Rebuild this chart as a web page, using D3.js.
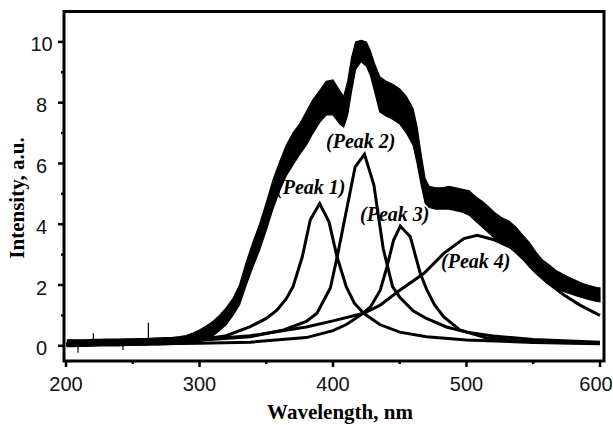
<!DOCTYPE html>
<html><head><meta charset="utf-8">
<script src="https://cdn.jsdelivr.net/npm/d3@7"></script>
<style>html,body{margin:0;padding:0;background:#fff;}svg{display:block;}</style>
</head><body>
<svg id="chart" width="613" height="425"></svg>
<script>
// ---- data ----
const xTicks = [200, 300, 400, 500, 600];
const xMinorTicks = [250, 350, 450, 550];
const yTicks = [0, 2, 4, 6, 8, 10];
const yMinorTicks = [1, 3, 5, 7, 9];

// measured spectrum: noisy band, lower and upper envelope
const specLambda = [201,205,210,215,220,225,230,235,240,245,250,255,260,265,270,275,280,285,290,295,300,305,310,315,320,325,330,335,340,345,350,355,360,365,370,375,380,385,390,395,400,405,408,411,414,417,421,425,428,431,435,440,445,450,455,460,463,466,469,472,477,482,487,492,497,502,507,512,517,522,527,532,537,542,547,552,557,562,567,572,577,582,587,592,597,600];
const specLow =    [-0.03,-0.03,-0.02,-0.02,-0.01,0,0,0,0,0.01,0.01,0.02,0.02,0.03,0.03,0.04,0.05,0.06,0.08,0.1,0.14,0.22,0.32,0.5,0.7,1.0,1.35,2.0,2.6,3.15,3.8,4.5,5.1,5.6,5.95,6.3,6.6,7.0,7.35,7.6,7.6,7.3,7.2,7.6,8.4,9.1,9.35,9.2,8.9,8.4,7.7,7.55,7.45,7.3,7.0,6.6,6.0,5.3,4.7,4.55,4.5,4.5,4.5,4.45,4.4,4.3,4.1,3.9,3.7,3.5,3.35,3.25,3.05,2.85,2.6,2.38,2.18,2.02,1.9,1.8,1.72,1.65,1.58,1.52,1.47,1.45];
const specHigh =   [0.2,0.2,0.2,0.2,0.21,0.21,0.22,0.22,0.22,0.23,0.23,0.24,0.24,0.25,0.26,0.27,0.28,0.3,0.34,0.42,0.52,0.65,0.8,1.0,1.25,1.55,2.0,2.75,3.4,4.0,4.7,5.45,6.05,6.6,7.0,7.3,7.7,8.1,8.4,8.7,8.75,8.4,8.2,8.7,9.5,10.0,10.05,10.0,9.7,9.3,8.85,8.7,8.6,8.45,8.2,7.8,7.2,6.3,5.5,5.25,5.2,5.2,5.25,5.2,5.15,5.1,4.9,4.75,4.55,4.35,4.2,4.1,3.9,3.65,3.4,3.08,2.82,2.66,2.48,2.36,2.25,2.15,2.05,1.98,1.92,1.9];

// isolated spikes in the measured trace [wavelength, tip value]
const spikeLambda = [209, 220.5, 242.7, 261.7];
const spikeTip =    [-0.23, 0.41, -0.14, 0.76];

// fitted component peaks
const peak1Lambda = [200,250,300,320,338,350,358,365,370,377,383,390,397,403,410,416,423,435,450,470,500,550,600];
const peak1Value  = [0.04,0.08,0.2,0.33,0.63,0.9,1.17,1.55,1.94,2.93,4.15,4.68,4.08,2.93,1.94,1.4,1.07,0.7,0.45,0.3,0.19,0.11,0.07];
const peak2Lambda = [200,250,300,338,363,380,388,398,403,416.6,423.6,430.6,437.6,444.6,450,460,470,485,500,520,550,600];
const peak2Value  = [0.05,0.1,0.18,0.3,0.52,0.8,1.07,1.9,2.9,5.89,6.3,5.3,3.2,1.95,1.6,1.15,0.9,0.62,0.45,0.32,0.21,0.12];
const peak3Lambda = [200,300,338,380,400,410,420.4,428,435.4,440.4,445.4,450.4,457.9,465.4,470.4,476,483,495,515,540,570,600];
const peak3Value  = [0.03,0.08,0.12,0.27,0.5,0.7,1.0,1.28,1.83,2.6,3.48,3.94,3.59,2.38,1.83,1.35,0.95,0.52,0.26,0.16,0.11,0.08];
const peak4Lambda = [200,250,300,338,380,400,423,435,450,468,483,498,508,520,535,548,560,573,585,598,600];
const peak4Value  = [0.06,0.12,0.2,0.33,0.62,0.82,1.07,1.33,1.83,2.38,3.04,3.53,3.64,3.5,3.2,2.71,2.1,1.67,1.34,1.04,1.0];

const peakNames = ["(Peak 1)", "(Peak 2)", "(Peak 3)", "(Peak 4)"];
const peakLabelAt = [[276, 194], [326, 148], [360, 221], [441, 268]]; // label anchor (px)

// ---- layout ----
const W = 613;
const svg = d3.select("#chart");
const L = 64, R = 604, T = 11.5, B = 361;
const x = d3.scaleLinear().domain([198.5, 603]).range([L, R]);
const y = d3.scaleLinear().domain([-0.5, 11]).range([B, T]);

const tickFont = "'Liberation Sans', Arial, sans-serif";
const titleFont = "'Liberation Serif', 'Times New Roman', serif";

// measured spectrum band
const band = specLambda.map((l, i) => ({l, lo: specLow[i], hi: specHigh[i]}));
svg.append("path")
  .datum(band)
  .attr("d", d3.area().x(d => x(d.l)).y0(d => y(d.lo)).y1(d => y(d.hi)))
  .attr("fill", "#000").attr("stroke", "#000").attr("stroke-width", 1.2);

// spikes
svg.selectAll("line.spike").data(spikeLambda).enter().append("line")
  .attr("class", "spike")
  .attr("x1", d => x(d)).attr("x2", d => x(d))
  .attr("y1", y(0.1)).attr("y2", (d, i) => y(spikeTip[i]))
  .attr("stroke", "#000").attr("stroke-width", 1.2);

// component peaks
const peaks = [[peak1Lambda, peak1Value], [peak2Lambda, peak2Value], [peak3Lambda, peak3Value], [peak4Lambda, peak4Value]];
const line = d3.line().x(d => x(d[0])).y(d => y(d[1]));
peaks.forEach(([ls, vs]) => {
  svg.append("path")
    .datum(ls.map((l, i) => [l, vs[i]]))
    .attr("d", line)
    .attr("fill", "none").attr("stroke", "#000")
    .attr("stroke-width", 3).attr("stroke-linejoin", "miter");
});

// peak labels
peakNames.forEach((t, i) => {
  svg.append("text")
    .attr("x", peakLabelAt[i][0]).attr("y", peakLabelAt[i][1])
    .attr("font-family", titleFont).attr("font-size", 20)
    .attr("font-weight", "bold").attr("font-style", "italic")
    .text(t);
});

// frame
svg.append("rect").attr("x", L).attr("y", T).attr("width", R - L).attr("height", B - T)
  .attr("fill", "none").attr("stroke", "#000").attr("stroke-width", 3);

// x ticks
svg.selectAll("line.xt").data(xTicks).enter().append("line")
  .attr("x1", d => x(d)).attr("x2", d => x(d)).attr("y1", B).attr("y2", B + 6)
  .attr("stroke", "#000").attr("stroke-width", 2.5);
svg.selectAll("line.xm").data(xMinorTicks).enter().append("line")
  .attr("x1", d => x(d)).attr("x2", d => x(d)).attr("y1", B).attr("y2", B + 3)
  .attr("stroke", "#000").attr("stroke-width", 2.5);
svg.selectAll("text.xl").data(xTicks).enter().append("text")
  .attr("x", d => Math.min(x(d), W - 17)).attr("y", 391).attr("text-anchor", "middle")
  .attr("font-family", tickFont).attr("font-size", 20).attr("fill", "#111")
  .text(d => d);

// y ticks
svg.selectAll("line.yt").data(yTicks).enter().append("line")
  .attr("x1", L - 6).attr("x2", L).attr("y1", d => y(d)).attr("y2", d => y(d))
  .attr("stroke", "#000").attr("stroke-width", 2.5);
svg.selectAll("line.ym").data(yMinorTicks).enter().append("line")
  .attr("x1", L - 3).attr("x2", L).attr("y1", d => y(d)).attr("y2", d => y(d))
  .attr("stroke", "#000").attr("stroke-width", 2.5);
svg.selectAll("text.yl").data(yTicks).enter().append("text")
  .attr("x", 41.5).attr("y", d => y(d) + 9.5).attr("text-anchor", "middle")
  .attr("font-family", tickFont).attr("font-size", 20).attr("fill", "#111")
  .text(d => d);

// axis titles
svg.append("text").attr("x", 340).attr("y", 419).attr("text-anchor", "middle")
  .attr("font-family", titleFont).attr("font-size", 21).attr("font-weight", "bold")
  .text("Wavelength, nm");
svg.append("text").attr("transform", "translate(24,198) rotate(-90)").attr("text-anchor", "middle")
  .attr("font-family", titleFont).attr("font-size", 21).attr("font-weight", "bold")
  .text("Intensity, a.u.");
</script>
</body></html>
